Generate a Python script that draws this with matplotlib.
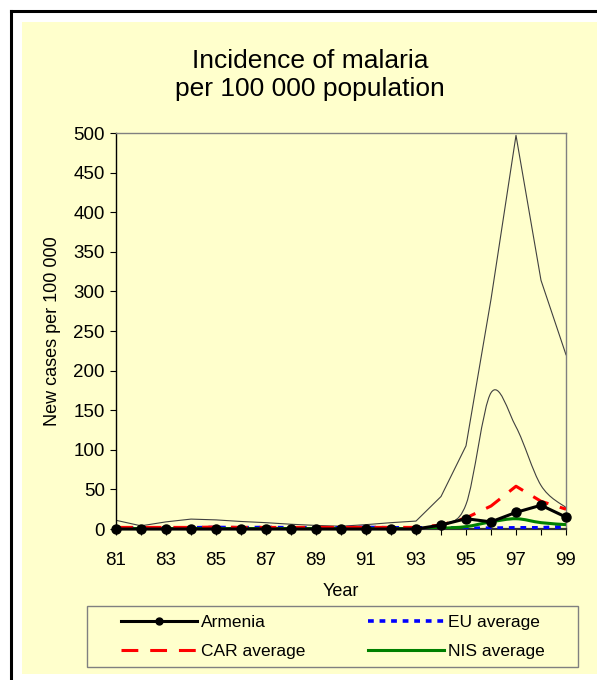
import matplotlib
matplotlib.use("Agg")
import matplotlib.pyplot as plt
from matplotlib.path import Path
from matplotlib.patches import PathPatch, Rectangle
from matplotlib.lines import Line2D

plt.rcParams["font.family"] = ["Liberation Sans", "DejaVu Sans"]

years = list(range(81, 100))
year_labels = [str(y) if y % 2 == 1 else "" for y in years]

armenia = [0, 0, 0, 0, 0, 0, 0, 0, 0, 0, 0, 0, 0, 5, 13, 9, 21, 30, 15]
eu_avg = [1.5, 1.5, 1.5, 1.5, 2, 1.5, 2, 1.5, 1.5, 1.5, 2, 1.5, 1.5, 1.5, 1, 1, 1.5, 1.5, 3]
car_avg = [2, 2, 2, 2, 2.5, 2, 2, 2, 2, 2, 2, 2, 2, 5, 14, 29, 54, 35, 25]
nis_avg = [0.5, 0.5, 0.5, 0.5, 0.5, 0.5, 0.5, 0.5, 0.5, 0.5, 0.5, 0.5, 0.5, 1, 3, 9, 13, 8, 5.5]
# two unlabelled country lines drawn thin in the original
country_a = [11, 4, 9, 12.5, 11.5, 9.5, 8, 6, 4.5, 3.5, 5.5, 8, 10, 41, 105, 290, 497, 314, 220]
country_b = [1, 1, 1, 1, 1, 1, 1, 1, 1, 1, 1, 1, 1.5, 6, 31, 172, 129, 55, 27]

BG = "#FFFFCC"
W, H = 597, 680


def smooth_path(xs, ys):
    # Catmull-Rom style bezier through the points (like a smoothed Excel line)
    verts = [(xs[0], ys[0])]
    codes = [Path.MOVETO]
    n = len(xs)
    for i in range(n - 1):
        x0, y0 = (xs[i - 1], ys[i - 1]) if i > 0 else (xs[i], ys[i])
        x1, y1 = xs[i], ys[i]
        x2, y2 = xs[i + 1], ys[i + 1]
        x3, y3 = (xs[i + 2], ys[i + 2]) if i + 2 < n else (x2, y2)
        c1 = (x1 + (x2 - x0) / 6, y1 + (y2 - y0) / 6)
        c2 = (x2 - (x3 - x1) / 6, y2 - (y3 - y1) / 6)
        verts += [c1, c2, (x2, y2)]
        codes += [Path.CURVE4] * 3
    return Path(verts, codes)


fig = plt.figure(figsize=(W / 100, H / 100), dpi=100)
fig.patch.set_facecolor("white")

# yellow panel and black frame (pixel positions measured from top-left)
fig.patches.append(Rectangle((22 / W, 6 / H), 1, 652 / H, transform=fig.transFigure,
                             facecolor=BG, edgecolor="none", zorder=-2))
fig.add_artist(Line2D([11 / W, 11 / W], [0, 669 / H], transform=fig.transFigure,
                      color="black", lw=2.2))
fig.add_artist(Line2D([11 / W, 1], [669 / H, 669 / H], transform=fig.transFigure,
                      color="black", lw=2.2))

ax = fig.add_axes([116 / W, 151 / H, 450 / W, 396 / H])
ax.set_facecolor(BG)

ax.plot(years, country_a, color="#404040", lw=0.8, zorder=2)
ax.add_patch(PathPatch(smooth_path(years, country_b), fill=False, edgecolor="#404040",
                       lw=0.8, zorder=2))
ax.plot(years, eu_avg, color="#0000FF", lw=2.6, dashes=(1.6, 1.6), zorder=3)
ax.add_patch(PathPatch(smooth_path(years, nis_avg), fill=False, edgecolor="#008000",
                       lw=2.2, zorder=3))
ax.plot(years, car_avg, color="#FF0000", lw=2.2, dashes=(5.5, 3.9), zorder=4)
ax.plot(years, armenia, color="black", lw=2.2, marker="o", markersize=6.5, zorder=5,
        clip_on=False)

ax.set_xlim(81, 99)
ax.set_ylim(0, 500)
ax.set_xticks(years)
ax.set_xticklabels(year_labels)
ax.set_yticks(range(0, 501, 50))
ax.tick_params(axis="both", direction="out", length=4, width=0.8, labelsize=13.5,
               colors="black")
ax.tick_params(axis="x", pad=12.5)
ax.tick_params(axis="y", pad=4)

for side in ["top", "right"]:
    ax.spines[side].set_color("#808080")
    ax.spines[side].set_linewidth(1)
ax.spines["left"].set_color("black")
ax.spines["left"].set_linewidth(1)
ax.spines["bottom"].set_color("#333333")
ax.spines["bottom"].set_linewidth(1.6)

ax.set_xlabel("Year", fontsize=13)
ax.xaxis.set_label_coords(0.5, (529 - 583) / 396)
ax.set_ylabel("New cases per 100 000", fontsize=13)
ax.yaxis.set_label_coords((61 - 116) / 450, 0.5)

fig.text(310 / W, 1 - 68 / H, "Incidence of malaria", ha="center", va="baseline",
         fontsize=19)
fig.text(310 / W, 1 - 96 / H, "per 100 000 population", ha="center", va="baseline",
         fontsize=19)

# legend: frame drawn separately, entries placed inside it
fig.patches.append(Rectangle((87 / W, 1 - 667 / H), 491 / W, 61 / H,
                             transform=fig.transFigure, facecolor=BG,
                             edgecolor="#808080", lw=1, zorder=1))
handles = [
    Line2D([], [], color="black", lw=2.2, marker="o", markersize=5),
    Line2D([], [], color="#FF0000", lw=2.2, dashes=(5.5, 3.9)),
    Line2D([], [], color="#0000FF", lw=2.6, dashes=(1.6, 1.6)),
    Line2D([], [], color="#008000", lw=2.2),
]
labels = ["Armenia", "CAR average", "EU average", "NIS average"]
leg = fig.legend(handles, labels, ncol=2, loc="center left",
                 bbox_to_anchor=(121 / W, 1 - 637 / H), borderaxespad=0,
                 borderpad=0, fontsize=12.5, handlelength=4.4, handletextpad=0.2,
                 labelspacing=0.8, columnspacing=3.6, frameon=False)

fig.savefig("out.png", dpi=100, facecolor=fig.get_facecolor())
